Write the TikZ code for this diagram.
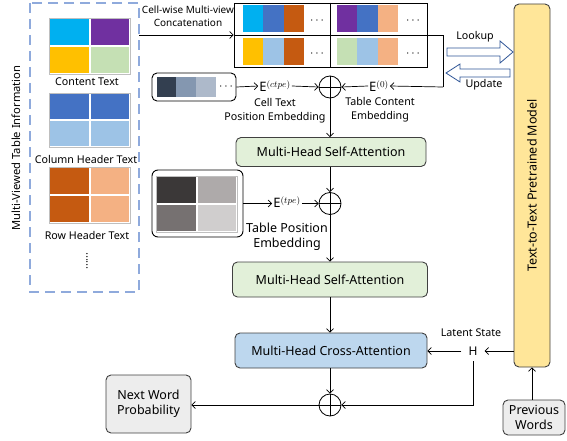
\documentclass[tikz,border=0pt]{standalone}
\usepackage{fontspec}
\setmainfont{Noto Sans}
\usetikzlibrary{arrows.meta}
\definecolor{ccyan}{HTML}{00B0F0}
\definecolor{cpurple}{HTML}{7030A0}
\definecolor{cgold}{HTML}{FFC000}
\definecolor{clgreen}{HTML}{C5E0B4}
\definecolor{cblue}{HTML}{4472C4}
\definecolor{clblue}{HTML}{9DC3E6}
\definecolor{corange}{HTML}{C55A11}
\definecolor{cpeach}{HTML}{F4B183}
\definecolor{csa}{HTML}{E2F0D9}
\definecolor{cca}{HTML}{BDD7EE}
\definecolor{cmodel}{HTML}{FFE699}
\definecolor{cgrayfill}{HTML}{EDEDED}
\definecolor{cdash}{HTML}{8FAADC}
\definecolor{chollow}{HTML}{2F5597}
\definecolor{cpA}{HTML}{333F50}
\definecolor{cpB}{HTML}{8497B0}
\definecolor{cpC}{HTML}{ADB9CA}
\definecolor{ctA}{HTML}{3B3838}
\definecolor{ctB}{HTML}{AEAAAA}
\definecolor{ctC}{HTML}{767171}
\definecolor{ctD}{HTML}{D0CECE}
\definecolor{cborder}{HTML}{404040}
\newcommand\tcell[5]{\fill[#1] (#2,#3) rectangle (#4,#5);}
\newcommand\fsA{\fontsize{10.7}{14}\selectfont}
\newcommand\fsB{\fontsize{10}{13}\selectfont}
\newcommand\fsC{\fontsize{12.5}{15}\selectfont}
\newcommand\fsE{\fontsize{13}{14}\selectfont}
\begin{document}
\begin{tikzpicture}[x=1pt,y=-1pt,
  arr/.style={-{Straight Barb[length=3.5pt,width=7pt]}, line width=0.7pt},
  rbox/.style={draw=cborder, line width=0.9pt, rounded corners=5pt, align=center, inner sep=0pt},
  plus/.style={circle, draw, line width=0.8pt, minimum size=22pt, inner sep=0pt},
  lbl/.style={inner sep=1pt, align=center},
  grid/.style={draw=black!25, line width=0.6pt, fill=white}
]
\useasboundingbox (0,0) rectangle (567,441);

% multi-view dashed box
\draw[cdash, line width=2.6pt, dash pattern=on 10pt off 6pt] (30,3) rectangle (139,292);
\node[lbl, rotate=90, font=\fontsize{11.2}{13}\selectfont] (mvlabel) at (16,148) {Multi-Viewed Table Information};

% content grid
\draw[grid] (49,18) rectangle (130,74);
\tcell{ccyan}{50}{19}{89.2}{45}
\tcell{cpurple}{90.6}{19}{129}{45}
\tcell{cgold}{50}{47}{89.2}{73}
\tcell{clgreen}{90.6}{47}{129}{73}
\node[lbl, font=\fsA] (ctext) at (87,82) {Content Text};
% column header grid
\draw[grid] (49,93) rectangle (130,147);
\tcell{cblue}{50}{94}{89.2}{119}
\tcell{cblue}{90.6}{94}{129}{119}
\tcell{clblue}{50}{121}{89.2}{146}
\tcell{clblue}{90.6}{121}{129}{146}
\node[lbl, font=\fsA] (chtext) at (86,159) {Column Header Text};
% row header grid
\draw[grid] (49,167) rectangle (130,223);
\tcell{corange}{50}{168}{89.2}{194}
\tcell{cpeach}{90.6}{168}{129}{194}
\tcell{corange}{50}{196}{89.2}{222}
\tcell{cpeach}{90.6}{196}{129}{222}
\node[lbl, font=\fsA] (rhtext) at (87,235) {Row Header Text};
\node[lbl, rotate=90, font=\fsA] (vdots) at (87,261) {......};

% concatenation box
\node[draw, line width=0.9pt, minimum width=193pt, minimum height=64pt, inner sep=0pt] (cat) at (330.5,35) {};
\tcell{ccyan}{243}{5}{263}{32}
\tcell{cblue}{263}{5}{284}{32}
\tcell{corange}{284}{5}{304}{32}
\tcell{cgold}{243}{38}{263}{65}
\tcell{clblue}{263}{38}{284}{65}
\tcell{corange}{284}{38}{304}{65}
\tcell{cpurple}{337}{5}{357}{32}
\tcell{cblue}{357}{5}{378}{32}
\tcell{cpeach}{378}{5}{398}{32}
\tcell{clgreen}{337}{38}{357}{65}
\tcell{clblue}{357}{38}{378}{65}
\tcell{cpeach}{378}{38}{398}{65}
\draw[line width=0.9pt] (cat.north) -- (cat.south);
\node[lbl, font=\fsE] (dA) at (317,21) {$\cdots$};
\node[lbl, font=\fsE] (dB) at (413,21) {$\cdots$};
\node[lbl, font=\fsE] (dC) at (317,54) {$\cdots$};
\node[lbl, font=\fsE] (dD) at (413,54) {$\cdots$};
\node[lbl, font=\fsB, align=center] (catlabel) at (188,16) {Cell-wise Multi-view\\Concatenation};
\coordinate (dbE) at (139,35);
\coordinate (bendA) at (443,35);
\coordinate (bendB) at (443,87);
\draw[arr] (dbE) -- (cat.west);
\draw[line width=0.7pt] (cat.west) -- (bendA) -- (bendB);

% cell text position embedding
\node[draw, line width=0.9pt, rounded corners=5pt, minimum width=84pt, minimum height=28pt, inner sep=0pt] (cpe) at (194,87) {};
\tcell{cpA}{157}{77}{176}{97}
\tcell{cpB}{176}{77}{196}{97}
\tcell{cpC}{196}{77}{216}{97}
\node[lbl, font=\fsE] (dE) at (226,87) {$\cdots$};
\node[lbl, font=\fsE] (Ectpe) at (275,86) {$\mathrm{E}^{(ctpe)}$};
\node[lbl, font=\fsA] (cptext) at (275,111) {Cell Text\\Position Embedding};
\node[plus] (p1) at (330,87) {};
\draw[line width=0.8pt] (p1.north) -- (p1.south) (p1.west) -- (p1.east);
\node[lbl, font=\fsE] (E0) at (379,86) {$\mathrm{E}^{(0)}$};
\node[lbl, font=\fsA] (tctext) at (380,110) {Table Content\\Embedding};
\draw[arr] (cpe.east) -- (Ectpe.west);
\draw[arr] (Ectpe.east) -- (p1.west);
\draw[arr] (E0.west) -- (p1.east);
\draw[arr] (bendB) -- (E0.east);

% self attention 1
\node[rbox, fill=csa, minimum width=190pt, minimum height=29pt, font=\fsC] (sa1) at (331,152) {Multi-Head Self-Attention};
\draw[arr] (p1.south) -- (sa1.north -| p1);

% table position embedding
\node[draw, line width=0.9pt, rounded corners=6pt, minimum width=91pt, minimum height=67pt, inner sep=0pt] (tpe) at (197.5,203.5) {};
\draw[grid] (156,176) rectangle (237,232);
\tcell{ctA}{157}{177}{196.2}{203}
\tcell{ctB}{197.6}{177}{236}{203}
\tcell{ctC}{157}{205}{196.2}{231}
\tcell{ctD}{197.6}{205}{236}{231}
\node[plus] (p2) at (330,203.5) {};
\draw[line width=0.8pt] (p2.north) -- (p2.south) (p2.west) -- (p2.east);
\node[lbl, font=\fsE] (Etpe) at (287,202) {$\mathrm{E}^{(tpe)}$};
\node[lbl, font=\fsC] (tptext) at (287,237) {Table Position\\Embedding};
\draw[arr] (tpe.east) -- (Etpe.west |- tpe.east);
\draw[arr] (Etpe.east |- p2.west) -- (p2.west);
\draw[arr] (sa1.south -| p2) -- (p2.north);

% self attention 2
\node[rbox, fill=csa, minimum width=195pt, minimum height=35pt, font=\fsC] (sa2) at (330,279.5) {Multi-Head Self-Attention};
\draw[arr] (p2.south) -- (sa2.north -| p2);

% cross attention
\node[rbox, fill=cca, minimum width=192pt, minimum height=35pt, font=\fsC] (ca) at (331,350.5) {Multi-Head Cross-Attention};
\draw[arr] (sa2.south -| p2) -- (ca.north -| p2);
\node[plus] (p3) at (330,405) {};
\draw[line width=0.8pt] (p3.north) -- (p3.south) (p3.west) -- (p3.east);
\draw[arr] (ca.south -| p3) -- (p3.north);

% next word
\node[rbox, fill=cgrayfill, minimum width=85pt, minimum height=58pt, font=\fsC] (nwp) at (148.5,404) {Next Word\\Probability};
\draw[arr] (p3.west) -- (nwp.east |- p3.west);

% pretrained model
\node[rbox, fill=cmodel, minimum width=36pt, minimum height=363pt] (model) at (532,185.5) {};
\node[lbl, rotate=90, font=\fsC] (modeltext) at (model.center) {Text-to-Text Pretrained Model};

% latent state
\node[lbl, font=\fontsize{12}{13}\selectfont] (H) at (473,351) {$\mathrm{H}$};
\node[lbl, font=\fsA] (lstext) at (471,333) {Latent State};
\draw[arr] (model.west |- H) -- ([xshift=6pt]H.east);
\draw[arr] ([xshift=-6pt]H.west) -- (ca.east |- H);
\coordinate (Hdown) at (473,405);
\draw[arr] ([yshift=-5pt]H.south) -- (Hdown) -- (p3.east);

% previous words
\node[rbox, fill=cgrayfill, minimum width=62pt, minimum height=35pt, font=\fsC] (prev) at (534,417.5) {Previous\\Words};
\draw[arr] (prev.north -| model) -- (model.south);

% lookup / update hollow arrows
\draw[chollow, line width=0.8pt, fill=white] (447,48) -- (500,48) -- (500,41) -- (513,52) -- (500,63) -- (500,56) -- (447,56) -- cycle;
\draw[chollow, line width=0.8pt, fill=white] (510,69) -- (460,69) -- (460,64) -- (446,73) -- (460,82) -- (460,77) -- (510,77) -- cycle;
\node[lbl, font=\fsA] (lookup) at (475,37) {Lookup};
\node[lbl, font=\fsA] (update) at (484,85) {Update};
\end{tikzpicture}
\end{document}
